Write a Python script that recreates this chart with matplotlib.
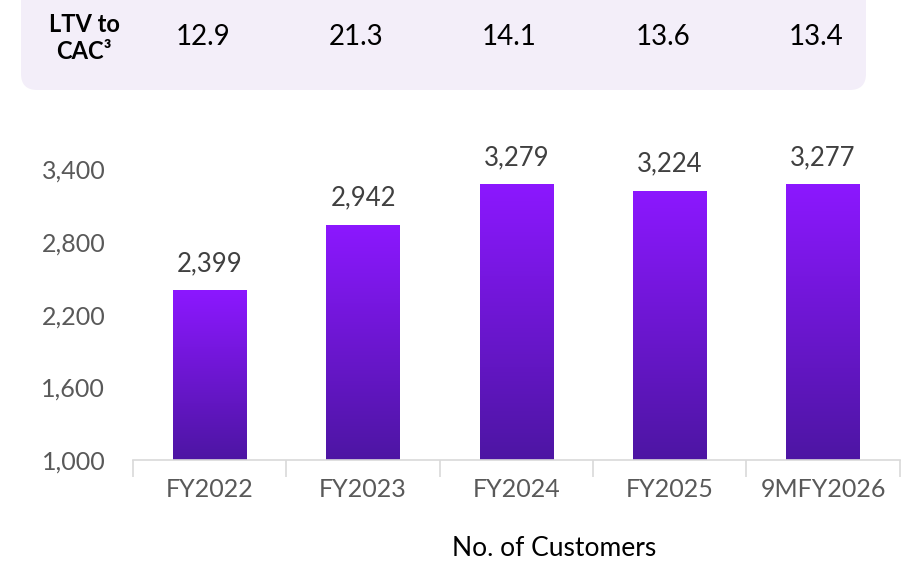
import numpy as np
import matplotlib.pyplot as plt
from matplotlib.patches import FancyBboxPatch
from matplotlib.colors import LinearSegmentedColormap

# -------------------------
# DATA
# -------------------------
years = ["FY2022", "FY2023", "FY2024", "FY2025", "9MFY2026"]
customers = [2399, 2942, 3279, 3224, 3277]
ltv_to_cac = ["12.9", "21.3", "14.1", "13.6", "13.4"]
yticks = [1000, 1600, 2200, 2800, 3400]

plt.rcParams["font.family"] = ["Lato", "DejaVu Sans"]

fig = plt.figure(figsize=(9.02, 5.67), dpi=100)
ax = fig.add_axes([0.1475, 0.1887, 0.85, 0.5556])

x = np.arange(len(years))
bars = ax.bar(x, customers, width=0.48, color="none", zorder=2)

# vertical gradient fill clipped to each bar
grad = np.linspace(0, 1, 256).reshape(-1, 1)
cmap = LinearSegmentedColormap.from_list("violet", ["#4D15A3", "#8C18FF"])
for b in bars:
    x0, w, h = b.get_x(), b.get_width(), b.get_height()
    im = ax.imshow(grad, extent=[x0, x0 + w, 1000, h], origin="lower",
                   cmap=cmap, aspect="auto", zorder=2)
    im.set_clip_path(b)

for xi, v in zip(x, customers):
    ax.text(xi, v + 115, f"{v:,}", ha="center", va="bottom",
            fontsize=18.5, color="#404040")

ax.set_xlim(-0.5, len(years) - 0.5)
ax.set_ylim(1000, 3600)
ax.set_yticks(yticks)
ax.set_yticklabels([f"{t:,}" for t in yticks], fontsize=18, color="#595959")
ax.set_xticks(x)
ax.set_xticklabels(years, fontsize=18, color="#595959")
ax.tick_params(axis="x", length=0, pad=13)
ax.tick_params(axis="y", length=0, pad=20)
ax.set_xticks(np.arange(-0.5, len(years), 1), minor=True)
ax.tick_params(axis="x", which="minor", length=12, color="#D9D9D9", width=1.2)

for s in ["top", "right", "left"]:
    ax.spines[s].set_visible(False)
ax.spines["bottom"].set_color("#D9D9D9")
ax.spines["bottom"].set_linewidth(1.2)

fig.text(554 / 902, 1 - 549 / 567, "No. of Customers", ha="center",
         va="center", fontsize=19, color="black")

# -------------------------
# TOP LTV TO CAC PANEL
# -------------------------
panel = FancyBboxPatch((21 / 902, 1 - 90 / 567), (866 - 21) / 902, 150 / 567,
                       boxstyle="round,pad=0,rounding_size=0.018",
                       transform=fig.transFigure, facecolor="#F3EEF9",
                       edgecolor="none", mutation_aspect=902 / 567)
fig.patches.append(panel)

fig.text(84 / 902, 1 - 38 / 567, "LTV to\nCAC³", ha="center", va="center",
         fontsize=17, fontweight="bold", color="black", linespacing=1.25)
for xi, val in zip(x, ltv_to_cac):
    xf = ax.transData.transform((xi - 0.045, 0))[0] / fig.bbox.width
    fig.text(xf, 1 - 37 / 567, val, ha="center", va="center",
             fontsize=20, color="black")

fig.savefig("out.png", dpi=100)
